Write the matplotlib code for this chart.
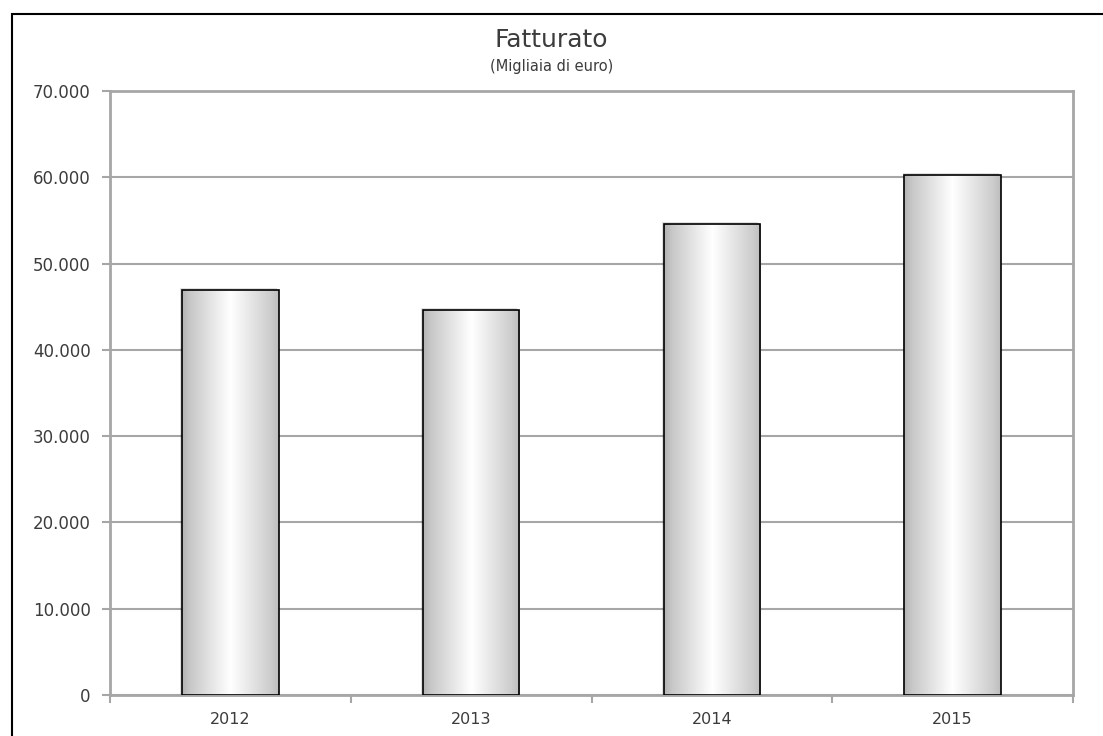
import numpy as np
import matplotlib
matplotlib.use("Agg")
from matplotlib import pyplot as plt
from matplotlib.patches import Rectangle
from matplotlib.ticker import FuncFormatter, FixedLocator

anni = ["2012", "2013", "2014", "2015"]
fatturato = [46900, 44600, 54600, 60300]  # migliaia di euro

plt.rcParams['font.family'] = ['DejaVu Sans']
txt_col = '#3c3c3c'
grid_col = '#a6a6a6'

fig = plt.figure(figsize=(11.03, 7.36), dpi=100)
ax = fig.add_axes([110/1103, 1-695/736, 963/1103, 604/736])

# cornice esterna
fig.patches.append(Rectangle((12/1103, -0.1), 1.2, 1-14/736+0.1, transform=fig.transFigure,
                             fill=False, edgecolor='black', linewidth=1.5, zorder=10))

x = np.arange(len(anni))
bars = ax.bar(x, fatturato, width=0.4, facecolor='none', edgecolor='black', linewidth=1.2, zorder=4)

# gradiente orizzontale dentro le barre
prof = np.interp(np.linspace(0, 1, 200), [0, 0.08, 0.5, 0.92, 1], [0.70, 0.78, 1.0, 0.80, 0.74])
grad = np.tile(prof, (2, 1))
for b in bars:
    x0, w, h = b.get_x(), b.get_width(), b.get_height()
    # ombra
    ax.add_patch(Rectangle((x0 - 0.008, 0), w, h + 250, facecolor='#000000', alpha=0.12,
                           edgecolor='none', zorder=2))
    im = ax.imshow(grad, cmap='gray', vmin=0, vmax=1, extent=[x0, x0 + w, 0, h],
                   aspect='auto', zorder=3, interpolation='bilinear')
    im.set_clip_path(b)

ax.set_xlim(-0.5, len(anni) - 0.5)
ax.set_ylim(0, 70000)
ax.set_yticks(np.arange(0, 70001, 10000))
ax.yaxis.set_major_formatter(FuncFormatter(lambda v, p: f"{int(v):,}".replace(",", ".")))
ax.set_xticks(x)
ax.set_xticklabels(anni)
ax.xaxis.set_minor_locator(FixedLocator(np.arange(-0.5, len(anni), 1.0)))

ax.grid(axis='y', color=grid_col, linewidth=1.5, zorder=1)
ax.set_axisbelow(True)
for s in ax.spines.values():
    s.set_color(grid_col)
    s.set_linewidth(2)

ax.tick_params(axis='y', which='major', length=6, width=1.5, color=grid_col, labelsize=12,
               labelcolor=txt_col, pad=8)
ax.tick_params(axis='x', which='major', length=0, labelsize=11.5, labelcolor=txt_col, pad=12)
ax.tick_params(axis='x', which='minor', length=6, width=1.5, color=grid_col)

fig.text(0.5, 1-40/736, "Fatturato", ha='center', va='center', fontsize=18, color=txt_col)
fig.text(0.5, 1-66/736, "(Migliaia di euro)", ha='center', va='center', fontsize=10.5, color=txt_col)

fig.savefig("out.png", dpi=100)
